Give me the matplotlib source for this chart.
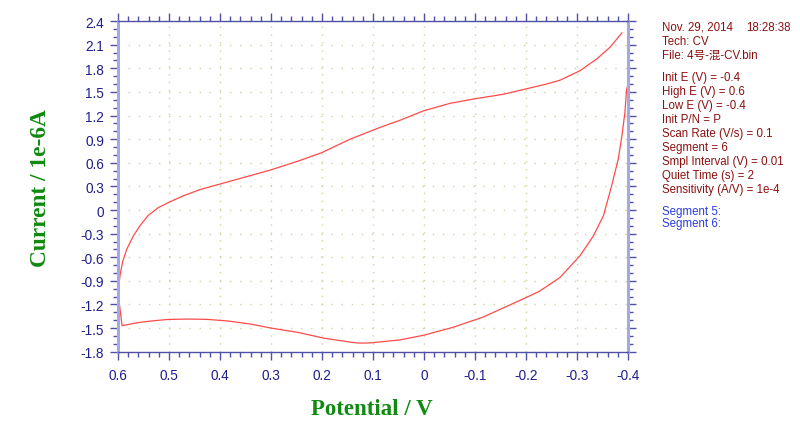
import matplotlib
matplotlib.use("Agg")
import matplotlib.pyplot as plt
from matplotlib.ticker import FixedLocator, MultipleLocator

plt.rcParams['lines.scale_dashes'] = False

# Segment 5: scan from -0.4 V toward 0.6 V (lower branch)
seg5_potential = [-0.400, -0.397, -0.394, -0.388, -0.381, -0.368, -0.352, -0.332, -0.306,
                  -0.267, -0.227, -0.201, -0.150, -0.116, -0.057, 0.000, 0.047, 0.100,
                  0.114, 0.129, 0.143, 0.158, 0.195, 0.247, 0.300, 0.339, 0.384, 0.424,
                  0.460, 0.502, 0.535, 0.561, 0.592]
seg5_current = [1.60, 1.52, 1.24, 0.94, 0.65, 0.31, -0.07, -0.33, -0.58,
                -0.855, -1.03, -1.11, -1.26, -1.36, -1.49, -1.59, -1.65, -1.685,
                -1.69, -1.69, -1.68, -1.665, -1.63, -1.555, -1.50, -1.45, -1.41, -1.39,
                -1.385, -1.39, -1.41, -1.43, -1.47]
# Segment 6: scan from 0.6 V back toward -0.4 V (upper branch)
seg6_potential = [0.600, 0.596, 0.591, 0.583, 0.570, 0.557, 0.541, 0.521, 0.498, 0.472,
                  0.439, 0.400, 0.300, 0.243, 0.200, 0.145, 0.086, 0.047, 0.001, -0.051,
                  -0.097, -0.155, -0.201, -0.240, -0.267, -0.306, -0.339, -0.365, -0.388]
seg6_current = [-1.05, -0.83, -0.66, -0.50, -0.33, -0.20, -0.07, 0.03, 0.105, 0.18,
                0.26, 0.33, 0.51, 0.63, 0.73, 0.90, 1.05, 1.14, 1.26, 1.355,
                1.41, 1.47, 1.54, 1.60, 1.65, 1.77, 1.92, 2.07, 2.25]

x_ticks = [0.6, 0.5, 0.4, 0.3, 0.2, 0.1, 0.0, -0.1, -0.2, -0.3, -0.4]
x_tick_labels = ["0.6", "0.5", "0.4", "0.3", "0.2", "0.1", "0", "-0.1", "-0.2", "-0.3", "-0.4"]
y_ticks = [2.4, 2.1, 1.8, 1.5, 1.2, 0.9, 0.6, 0.3, 0.0, -0.3, -0.6, -0.9, -1.2, -1.5, -1.8]
y_tick_labels = ["2.4", "2.1", "1.8", "1.5", "1.2", "0.9", "0.6", "0.3", "0",
                 "-0.3", "-0.6", "-0.9", "-1.2", "-1.5", "-1.8"]

info_lines = ["Tech: CV", "File: 4号-混-CV.bin"]
param_lines = ["Init E (V) = -0.4", "High E (V) = 0.6", "Low E (V) = -0.4", "Init P/N = P",
               "Scan Rate (V/s) = 0.1", "Segment = 6", "Smpl Interval (V) = 0.01",
               "Quiet Time (s) = 2", "Sensitivity (A/V) = 1e-4"]
segment_lines = ["Segment 5:", "Segment 6:"]

W, H = 800, 439
fig = plt.figure(figsize=(W / 100, H / 100), dpi=100)
ax = fig.add_axes([118 / W, 1 - 352.7 / H, 510 / W, (352.7 - 22.1) / H])

pot = seg5_potential + seg6_potential
cur = seg5_current + seg6_current
ax.plot(pot, cur, color='#ff4a4a', lw=0.9)

ax.set_xlim(0.6, -0.4)
ax.set_ylim(-1.8, 2.4)

navy = '#1e1e8a'
spine_dark = '#5050a8'
spine_light = '#a8a8e0'

ax.xaxis.set_major_locator(FixedLocator(x_ticks))
ax.set_xticklabels(x_tick_labels)
ax.xaxis.set_minor_locator(MultipleLocator(0.02))
ax.yaxis.set_major_locator(FixedLocator(y_ticks))
ax.set_yticklabels(y_tick_labels)
ax.yaxis.set_minor_locator(MultipleLocator(0.1))

ax.tick_params(which='both', direction='out', top=True, right=True, colors=spine_dark,
               labelcolor=navy)
ax.tick_params(which='major', length=6, width=1, labelsize=9.8, pad=4)
ax.tick_params(which='minor', length=3.5, width=1)
ax.tick_params(axis='x', which='major', pad=6)
for lab in ax.get_xticklabels() + ax.get_yticklabels():
    lab.set_family('Liberation Sans')

for s in ['top', 'bottom']:
    ax.spines[s].set_color(spine_dark)
    ax.spines[s].set_linewidth(1.0)
for s in ['left', 'right']:
    ax.spines[s].set_color(spine_light)
    ax.spines[s].set_linewidth(2.2)

ax.xaxis.grid(True, which='major', color='#d2d2a4', linestyle=(0, (1.0, 4.7)), lw=1.0)
ax.yaxis.grid(True, which='major', color='#d2d2a4', linestyle=(0, (1.0, 6.3)), lw=1.0)
ax.set_axisbelow(True)

green = '#118a11'
fig.text(41 / W, 1 - 188 / H, "Current / 1e-6A", rotation=90, ha='center', va='center',
         color=green, fontsize=16.8, fontweight='bold', family='Liberation Serif')
fig.text(372 / W, 1 - 410 / H, "Potential / V", ha='center', va='center',
         color=green, fontsize=16.5, fontweight='bold', family='Liberation Serif')

red_txt = '#8b1010'
blue_txt = '#2a3de0'
fam = ['Liberation Sans', 'Noto Sans CJK SC']
tx = 662 / W
fig.text(tx, 1 - 28 / H, "Nov. 29, 2014", ha='left', va='center', color=red_txt,
         fontsize=8.3, family=fam)
fig.text(746 / W, 1 - 28 / H, "18:28:38", ha='left', va='center', color=red_txt,
         fontsize=8.3, family=fam)
for i, t in enumerate(info_lines):
    fig.text(tx, 1 - (42 + 14 * i) / H, t, ha='left', va='center', color=red_txt,
             fontsize=8.3, family=fam)
for i, t in enumerate(param_lines):
    fig.text(tx, 1 - (78 + 14 * i) / H, t, ha='left', va='center', color=red_txt,
             fontsize=8.3, family=fam)
for i, t in enumerate(segment_lines):
    fig.text(tx, 1 - (212 + 12.5 * i) / H, t, ha='left', va='center', color=blue_txt,
             fontsize=8.3, family=fam)

fig.savefig("out.png", dpi=100)
